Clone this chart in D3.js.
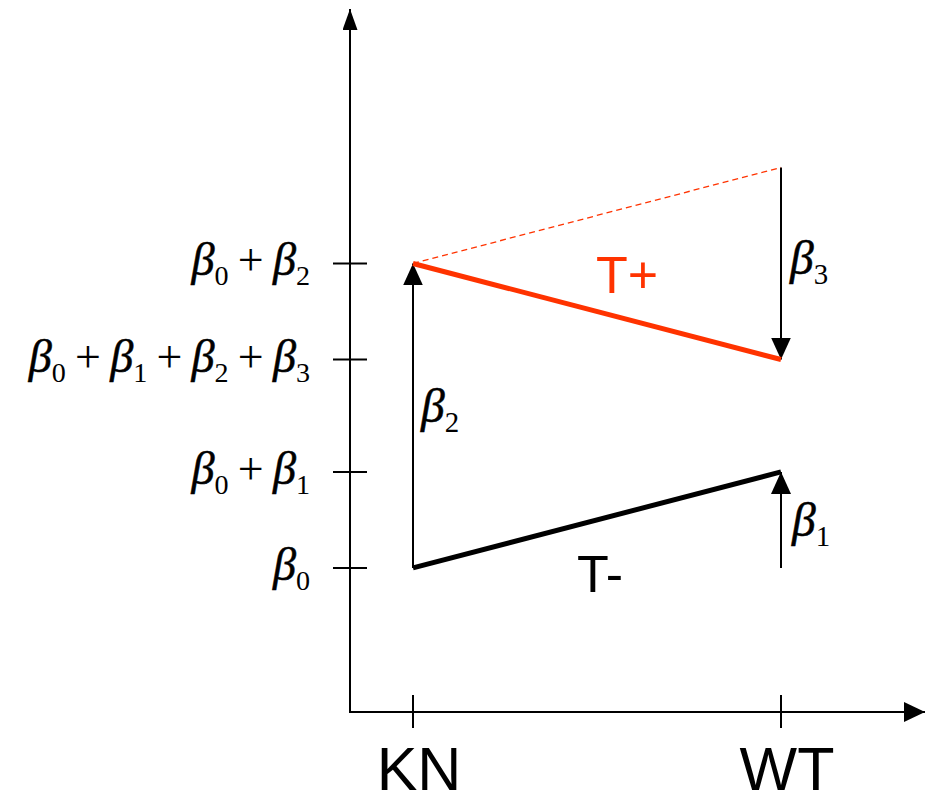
<!DOCTYPE html>
<html>
<head>
<meta charset="utf-8">
<script src="https://cdn.jsdelivr.net/npm/d3@7"></script>
<style>
  html, body { margin: 0; padding: 0; background: #fff; }
  svg { display: block; }
</style>
</head>
<body>
<svg id="chart" width="927" height="803"></svg>
<script>
// Groups on the horizontal axis
const categories = ["KN", "WT"];

// Model coefficients (β0 … β3)
const betaIndex = [0, 1, 2, 3];
const betaValues = [1.5, 1.0, 3.17, -2.0];

// Tick labels on the vertical axis: each one is a sum of coefficients
const tickTerms = [[0], [0, 1], [0, 1, 2, 3], [0, 2]];

// Series names
const seriesNames = ["T-", "T+"];

const sumOf = terms => terms.reduce((s, i) => s + betaValues[i], 0);

const [b0, b1, b2, b3] = betaValues;
const tMinus = [b0, b0 + b1];                       // black line
const tPlus = [b0 + b2, b0 + b1 + b2 + b3];         // red line
const noInteraction = [b0 + b2, b0 + b1 + b2];      // dashed red line

const red = "#ff3300";
const svg = d3.select("#chart");

const originX = 350, axisEndX = 925;
const x = d3.scalePoint().domain(categories).range([413, 781]);
const y = d3.scaleLinear().domain([0, 7.33]).range([712, 8]);

// Arrowhead markers
const defs = svg.append("defs");
function marker(id, w, h) {
  defs.append("marker")
    .attr("id", id)
    .attr("viewBox", `0 0 ${h} ${w}`)
    .attr("refX", h).attr("refY", w / 2)
    .attr("markerUnits", "userSpaceOnUse")
    .attr("markerWidth", h).attr("markerHeight", w)
    .attr("orient", "auto")
    .append("path")
    .attr("d", `M0,0 L${h},${w / 2} L0,${w} Z`)
    .attr("fill", "#000");
}
marker("axisY", 15, 21);
marker("axisX", 20, 21);
marker("arr", 20, 22);

// Axes
svg.append("line")
  .attr("x1", originX).attr("y1", y(0))
  .attr("x2", originX).attr("y2", y(7.33) + 1)
  .attr("stroke", "#000").attr("stroke-width", 2)
  .attr("marker-end", "url(#axisY)");
svg.append("line")
  .attr("x1", originX - 1).attr("y1", y(0))
  .attr("x2", axisEndX).attr("y2", y(0))
  .attr("stroke", "#000").attr("stroke-width", 2)
  .attr("marker-end", "url(#axisX)");

// Y ticks with coefficient labels
const yTicks = svg.append("g").selectAll("g")
  .data(tickTerms).join("g")
  .attr("transform", d => `translate(0,${y(sumOf(d))})`);
yTicks.append("line")
  .attr("x1", originX - 17).attr("x2", originX + 17)
  .attr("stroke", "#000").attr("stroke-width", 2);

// Writes β-terms joined by "+", each β with an upright numeric subscript
function betaText(sel, terms, size) {
  const sub = Math.round(size * 0.27);
  let shift = 0;
  terms.forEach((t, i) => {
    if (i > 0) {
      sel.append("tspan").attr("font-style", "normal")
        .attr("font-size", size * 1.24).attr("dy", -shift)
        .text("\u2009+\u2009");
      shift = 0;
    }
    sel.append("tspan").attr("font-style", "italic")
      .attr("font-size", size * 1.25).attr("dy", -shift)
      .attr("stroke", "#000").attr("stroke-width", 0.5)
      .text("β");
    sel.append("tspan").attr("font-style", "normal")
      .attr("font-size", size * 0.76).attr("dy", sub)
      .text(String(betaIndex[t]));
    shift = sub;
  });
}

yTicks.append("text")
  .attr("x", 310).attr("y", 12)
  .attr("text-anchor", "end")
  .attr("font-family", "'Liberation Serif', 'Times New Roman', serif")
  .each(function (d) { betaText(d3.select(this), d, 37); });

// X ticks and labels
const xTicks = svg.append("g").selectAll("g")
  .data(categories).join("g")
  .attr("transform", d => `translate(${x(d)},0)`);
xTicks.append("line")
  .attr("y1", y(0) - 17).attr("y2", y(0) + 16)
  .attr("stroke", "#000").attr("stroke-width", 2);
xTicks.append("text")
  .attr("x", 6).attr("y", 790)
  .attr("text-anchor", "middle")
  .attr("font-family", "'Liberation Sans', Arial, sans-serif")
  .attr("font-size", 61)
  .text(d => d);

// Coefficient arrows
const arrows = [
  { beta: 2, cat: "KN", from: tMinus[0], to: tPlus[0], dx: 8, dy: 6 },
  { beta: 3, cat: "WT", from: noInteraction[1], to: tPlus[1], dx: 9, dy: 11 },
  { beta: 1, cat: "WT", from: b0, to: tMinus[1], dx: 11, dy: 16 }
];
svg.append("g").selectAll("line")
  .data(arrows).join("line")
  .attr("x1", d => x(d.cat)).attr("x2", d => x(d.cat))
  .attr("y1", d => y(d.from)).attr("y2", d => y(d.to))
  .attr("stroke", "#000").attr("stroke-width", 2)
  .attr("marker-end", "url(#arr)");

svg.append("g").selectAll("text")
  .data(arrows).join("text")
  .attr("x", d => x(d.cat) + d.dx)
  .attr("y", d => (y(d.from) + y(d.to)) / 2 + d.dy)
  .attr("font-family", "'Liberation Serif', 'Times New Roman', serif")
  .each(function (d) { betaText(d3.select(this), [d.beta], 38); });

// Lines
const line = d3.line().x((d, i) => x(categories[i])).y(d => y(d));

svg.append("path").datum(noInteraction)
  .attr("d", line).attr("fill", "none")
  .attr("stroke", red).attr("stroke-width", 1.3)
  .attr("stroke-dasharray", "6,4");

svg.append("path").datum(tMinus)
  .attr("d", line).attr("fill", "none")
  .attr("stroke", "#000").attr("stroke-width", 5);

svg.append("path").datum(tPlus)
  .attr("d", line).attr("fill", "none")
  .attr("stroke", red).attr("stroke-width", 5);

// Series labels
const midX = (x(categories[0]) + x(categories[1])) / 2;
svg.append("text")
  .attr("x", midX + 30).attr("y", (y(tPlus[0]) + y(tPlus[1])) / 2 - 18)
  .attr("text-anchor", "middle")
  .attr("font-family", "'Liberation Sans', Arial, sans-serif")
  .attr("font-size", 52).attr("fill", red)
  .text(seriesNames[1]);
svg.append("text")
  .attr("x", midX + 3).attr("y", (y(tMinus[0]) + y(tMinus[1])) / 2 + 72)
  .attr("text-anchor", "middle")
  .attr("font-family", "'Liberation Sans', Arial, sans-serif")
  .attr("font-size", 52).attr("fill", "#000")
  .text(seriesNames[0]);
</script>
</body>
</html>
